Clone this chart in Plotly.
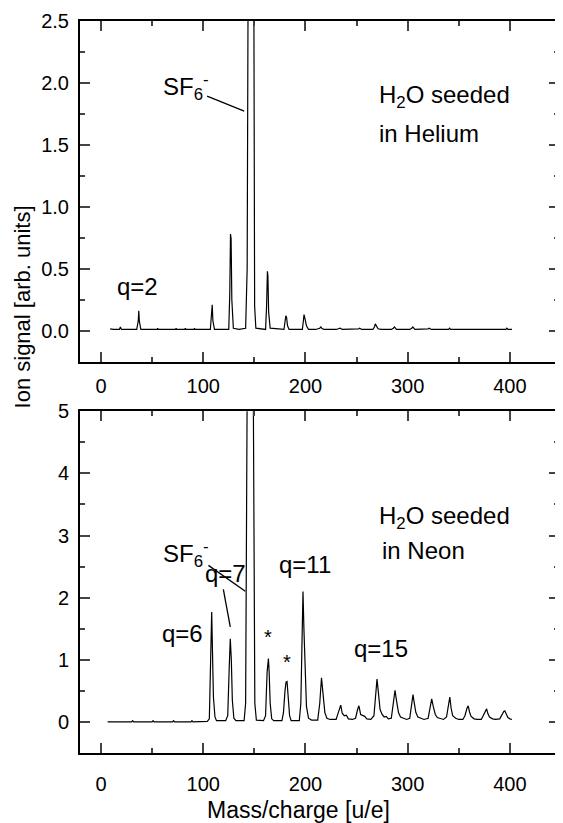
import plotly.graph_objects as go

# ---- Data: H2O seeded in Helium (top panel) ----
he_mass = [9, 12, 18, 19, 20, 35, 36.5, 37, 37.5, 39, 55, 55.5, 56, 73, 73.5, 74, 82, 82.5, 83,
           91, 91.5, 92, 107, 108, 108.8, 109.5, 111, 125, 126, 126.7, 127.3, 128, 129.5, 135,
           141.5, 143, 144.2, 149.3, 150.3, 151.5, 161, 162, 162.8, 163.3, 164, 165.5, 179, 180,
           180.8, 181.5, 182.5, 184, 197, 198, 198.6, 199.5, 201, 203, 210, 214, 215, 216, 218,
           230, 233, 234, 236, 250, 252, 253, 255, 266, 267.5, 268.3, 269.5, 271, 274, 284, 286,
           287, 289, 302, 304, 305, 307, 318, 320, 321, 323, 340, 341, 342, 360, 361, 362, 378,
           379, 380, 396, 397, 398, 402]
he_signal = [0.015, 0.01, 0.01, 0.03, 0.01, 0.01, 0.08, 0.16, 0.08, 0.01, 0.01, 0.02, 0.01, 0.01, 0.02, 0.01, 0.01, 0.02, 0.01,
             0.01, 0.02, 0.01, 0.01, 0.1, 0.21, 0.08, 0.01, 0.01, 0.3, 0.78, 0.74, 0.25, 0.02, 0.01,
             0.02, 0.5, 3.5, 3.5, 0.2, 0.02, 0.01, 0.2, 0.48, 0.44, 0.15, 0.02, 0.01, 0.06,
             0.12, 0.11, 0.04, 0.01, 0.01, 0.08, 0.13, 0.1, 0.04, 0.01, 0.01, 0.02, 0.03, 0.02, 0.01,
             0.01, 0.015, 0.02, 0.01, 0.01, 0.015, 0.02, 0.01, 0.01, 0.03, 0.055, 0.03, 0.015, 0.01, 0.01, 0.02,
             0.03, 0.01, 0.01, 0.02, 0.03, 0.01, 0.01, 0.015, 0.02, 0.01, 0.01, 0.02, 0.01, 0.01, 0.015, 0.01, 0.01,
             0.015, 0.01, 0.01, 0.02, 0.01, 0.01]

# ---- Data: H2O seeded in Neon (bottom panel) ----
ne_mass = [6.5, 30, 31, 32, 50, 51, 52, 70, 71, 72, 88, 89, 90, 104, 106, 107.5, 108.3, 109, 110, 111.5, 113,
           122, 124, 125.5, 126.5, 127.5, 128.5, 130, 132, 140, 141.5, 143.5, 148.5, 150.5, 152,
           159, 161, 162.5, 163.8, 164.5, 165.5, 167, 169, 177, 178.5, 180, 181, 182, 183, 184.5, 186,
           194, 195.5, 196.8, 197.6, 198.5, 199.5, 201, 203, 206, 212, 214, 215.7, 217, 219, 221, 224,
           230, 232, 234.5, 236, 238, 240, 242, 246, 249, 251, 252.3, 254, 256, 258, 260, 264,
           267, 269, 270, 271.5, 273, 275, 277, 279, 281, 284, 286, 287.6, 289, 291, 293, 296, 299,
           302, 304, 305.2, 306.5, 308, 310, 313, 316, 320, 322, 323.5, 325, 327, 329, 332, 335,
           338, 340, 341.2, 342.5, 344, 347, 350, 354, 356, 358, 359.2, 360.5, 362, 365, 368,
           372, 374, 376, 377.2, 378.5, 380, 383, 386, 390, 392, 394, 395, 396.5, 398, 400, 402]
ne_signal = [0.0, 0.0, 0.02, 0.0, 0.0, 0.02, 0.0, 0.0, 0.02, 0.0, 0.0, 0.02, 0.0, 0.01, 0.05, 1.2, 1.77, 1.2, 0.4, 0.08, 0.02,
             0.02, 0.1, 0.9, 1.34, 1.0, 0.35, 0.06, 0.02, 0.02, 0.3, 7.0, 7.0, 0.3, 0.03,
             0.02, 0.1, 0.8, 1.02, 0.8, 0.3, 0.05, 0.02, 0.02, 0.15, 0.5, 0.64, 0.65, 0.45, 0.1, 0.02,
             0.02, 0.3, 1.5, 2.1, 1.5, 0.8, 0.25, 0.06, 0.03, 0.03, 0.3, 0.71, 0.45, 0.15, 0.06, 0.04,
             0.04, 0.15, 0.27, 0.14, 0.1, 0.11, 0.05, 0.04, 0.06, 0.2, 0.26, 0.12, 0.1, 0.09, 0.05, 0.04,
             0.1, 0.5, 0.69, 0.45, 0.2, 0.12, 0.08, 0.09, 0.05, 0.06, 0.3, 0.51, 0.35, 0.15, 0.08, 0.06, 0.04,
             0.06, 0.3, 0.44, 0.3, 0.15, 0.08, 0.06, 0.04, 0.06, 0.25, 0.37, 0.25, 0.12, 0.07, 0.05, 0.04,
             0.08, 0.3, 0.40, 0.22, 0.1, 0.06, 0.04, 0.04, 0.1, 0.22, 0.26, 0.16, 0.09, 0.05, 0.04,
             0.04, 0.1, 0.18, 0.21, 0.13, 0.08, 0.05, 0.04, 0.05, 0.12, 0.17, 0.18, 0.12, 0.07, 0.05, 0.04]

x_ticks = [0, 100, 200, 300, 400]
he_yticks = [0.0, 0.5, 1.0, 1.5, 2.0, 2.5]
ne_yticks = [0, 1, 2, 3, 4, 5]

FONT = "Liberation Sans, Arial, sans-serif"
TICKFONT = dict(family=FONT, size=20, color="black")
ANN = dict(family=FONT, size=24, color="black")

fig = go.Figure()
fig.add_trace(go.Scatter(x=he_mass, y=he_signal, mode="lines", line=dict(color="black", width=1.2),
                         xaxis="x", yaxis="y", showlegend=False))
fig.add_trace(go.Scatter(x=ne_mass, y=ne_signal, mode="lines", line=dict(color="black", width=1.2),
                         xaxis="x2", yaxis="y2", showlegend=False))

def xax(anchor, standoff):
    return dict(anchor=anchor, domain=[0, 1], range=[-20.5, 448], tickvals=x_ticks,
                ticktext=[str(v) for v in x_ticks], ticks="inside", ticklen=10, tickwidth=1.5,
                showline=True, linewidth=2, linecolor="black", mirror="allticks",
                showgrid=False, zeroline=False, tickfont=TICKFONT, ticklabelstandoff=standoff,
                minor=dict(dtick=50, tick0=0, ticks="inside", ticklen=5, tickwidth=1.5, showgrid=False))

def yax(anchor, dom, rng, tv, tt, minor):
    return dict(anchor=anchor, domain=dom, range=rng, tickvals=tv, ticktext=tt,
                ticks="inside", ticklen=10, tickwidth=1.5, showline=True, linewidth=2,
                linecolor="black", mirror="allticks", showgrid=False, zeroline=False,
                tickfont=TICKFONT, ticklabelstandoff=5,
                minor=dict(dtick=minor, tick0=0, ticks="inside", ticklen=5, tickwidth=1.5, showgrid=False))

# page body has an 8px margin, so the figure is drawn 8px smaller and shifted
fig.update_layout(
    width=555, height=815, paper_bgcolor="white", plot_bgcolor="white",
    margin=dict(l=72, r=2, t=8, b=70),
    xaxis=xax("y", 5),
    yaxis=yax("x", [0.5346, 1], [-0.25, 2.5], he_yticks, [f"{v:.1f}" for v in he_yticks], 0.25),
    xaxis2=xax("y2", 12),
    yaxis2=yax("x2", [0, 0.4668], [-0.5, 5], ne_yticks, [str(v) for v in ne_yticks], 0.5),
)

anns = [
    # top panel
    dict(x=58.4, y=1.97, xref="x", yref="y", text="SF<sub>6</sub><sup>-</sup>", xanchor="left"),
    dict(x=269.6, y=1.89, xref="x", yref="y", text="H<sub>2</sub>O seeded", xanchor="left"),
    dict(x=269.6, y=1.59, xref="x", yref="y", text="in Helium", xanchor="left"),
    dict(x=13.6, y=0.36, xref="x", yref="y", text="q=2", xanchor="left"),
    # bottom panel
    dict(x=58.4, y=2.71, xref="x2", yref="y2", text="SF<sub>6</sub><sup>-</sup>", xanchor="left"),
    dict(x=269.6, y=3.29, xref="x2", yref="y2", text="H<sub>2</sub>O seeded", xanchor="left"),
    dict(x=272.5, y=2.76, xref="x2", yref="y2", text="in Neon", xanchor="left"),
    dict(x=58.1, y=1.42, xref="x2", yref="y2", text="q=6", xanchor="left"),
    dict(x=99.6, y=2.385, xref="x2", yref="y2", text="q=7", xanchor="left"),
    dict(x=172.3, y=2.54, xref="x2", yref="y2", text="q=11", xanchor="left"),
    dict(x=245.3, y=1.19, xref="x2", yref="y2", text="q=15", xanchor="left"),
    dict(x=163.8, y=1.36, xref="x2", yref="y2", text="*", xanchor="center", font=dict(family=FONT, size=20, color="black")),
    dict(x=181.7, y=0.96, xref="x2", yref="y2", text="*", xanchor="center", font=dict(family=FONT, size=20, color="black")),
    # axis titles
    dict(x=-0.1206, y=0.609, xref="paper", yref="paper", text="Ion signal [arb. units]", textangle=-90,
         xanchor="center", yanchor="middle", font=dict(family=FONT, size=22, color="black")),
    dict(x=0.457, y=-0.078, xref="paper", yref="paper", text="Mass/charge [u/e]",
         xanchor="center", yanchor="middle", font=dict(family=FONT, size=23, color="black")),
]
for a in anns:
    a.setdefault("yanchor", "middle")
    a.setdefault("font", ANN)
    a["showarrow"] = False
fig.update_layout(annotations=anns)

shapes = [
    dict(type="line", xref="x", yref="y", x0=103.8, y0=1.893, x1=140.1, y1=1.773, line=dict(color="black", width=1.3)),
    dict(type="line", xref="x2", yref="y2", x0=105.1, y0=2.52, x1=141.2, y1=2.105, line=dict(color="black", width=1.3)),
    dict(type="line", xref="x2", yref="y2", x0=119.7, y0=2.133, x1=126.5, y1=1.53, line=dict(color="black", width=1.3)),
]
fig.update_layout(shapes=shapes)

fig.write_html("out.html")
